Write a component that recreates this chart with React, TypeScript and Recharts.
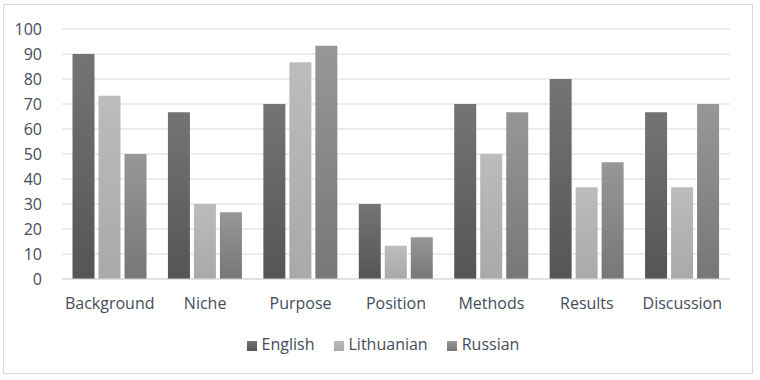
import { BarChart, Bar, XAxis, YAxis, CartesianGrid, Legend } from 'recharts';

const sections = ['Background', 'Niche', 'Purpose', 'Position', 'Methods', 'Results', 'Discussion'];
const english = [90, 66.7, 70, 30, 70, 80, 66.7];
const lithuanian = [73.3, 30, 86.7, 13.3, 50, 36.7, 36.7];
const russian = [50, 26.7, 93.3, 16.7, 66.7, 46.7, 70];
const yTicks = [0, 10, 20, 30, 40, 50, 60, 70, 80, 90, 100];

const rows = sections.map((name, i) => ({
    name,
    English: english[i],
    Lithuanian: lithuanian[i],
    Russian: russian[i],
}));

const textColor = '#444c5c';
const font = '"Open Sans", sans-serif';

export default function App() {
    return (
        <div style={{ position: 'absolute', left: 0, top: 0, width: 760, height: 380, background: '#fff' }}>
            <div style={{ position: 'absolute', left: 3, top: 4, width: 748, height: 368, border: '1px solid #d9d9d9' }} />
            <BarChart
                width={760}
                height={380}
                data={rows}
                margin={{ top: 29, right: 30, left: 0, bottom: 37 }}
                barGap={4}
                barCategoryGap="11%"
                style={{ fontFamily: font }}
            >
                <defs>
                    <linearGradient id="gEng" x1="0" y1="0" x2="0" y2="1">
                        <stop offset="0%" stopColor="#747474" />
                        <stop offset="100%" stopColor="#555555" />
                    </linearGradient>
                    <linearGradient id="gLit" x1="0" y1="0" x2="0" y2="1">
                        <stop offset="0%" stopColor="#bcbcbc" />
                        <stop offset="100%" stopColor="#a9a9a9" />
                    </linearGradient>
                    <linearGradient id="gRus" x1="0" y1="0" x2="0" y2="1">
                        <stop offset="0%" stopColor="#979797" />
                        <stop offset="100%" stopColor="#777777" />
                    </linearGradient>
                </defs>
                <CartesianGrid vertical={false} stroke="#d9d9d9" />
                <XAxis
                    dataKey="name"
                    axisLine={{ stroke: '#d9d9d9' }}
                    tickLine={false}
                    tick={{ fill: textColor, fontSize: 16 }}
                    tickMargin={13}
                    height={42}
                />
                <YAxis
                    domain={[0, 100]}
                    ticks={yTicks}
                    axisLine={false}
                    tickLine={false}
                    tick={{ fill: textColor, fontSize: 16 }}
                    width={62}
                    tickMargin={14}
                />
                <Legend
                    iconType="square"
                    iconSize={10}
                    wrapperStyle={{ fontSize: 16, color: textColor, bottom: 25, left: 8, width: 760 }}
                    formatter={(v, _e, i) => (
                        <span style={{ color: textColor, marginLeft: 1, marginRight: i < 2 ? 9 : 0 }}>{v}</span>
                    )}
                />
                <Bar dataKey="English" fill="url(#gEng)" isAnimationActive={false} legendType="square" />
                <Bar dataKey="Lithuanian" fill="url(#gLit)" isAnimationActive={false} legendType="square" />
                <Bar dataKey="Russian" fill="url(#gRus)" isAnimationActive={false} legendType="square" />
            </BarChart>
        </div>
    );
}
